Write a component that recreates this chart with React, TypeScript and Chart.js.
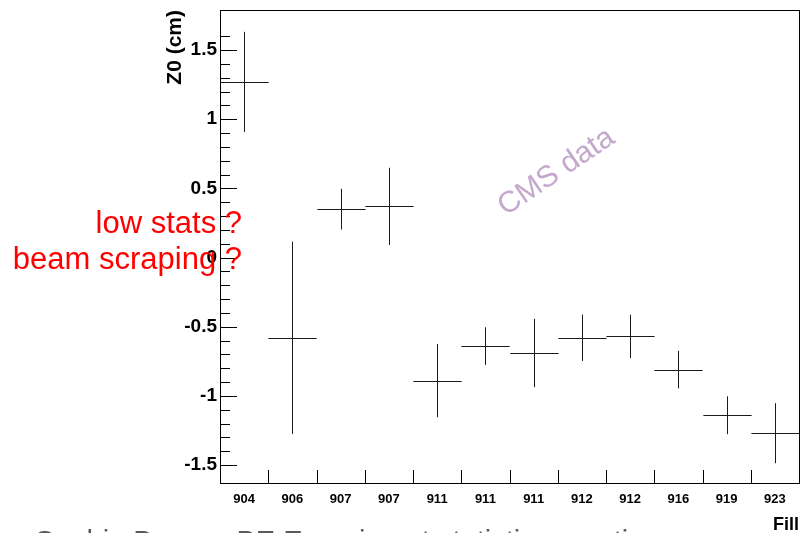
import React, { useEffect, useRef } from "react";
import { Chart, registerables } from "chart.js";

Chart.register(...registerables);

const categories = ["904", "906", "907", "907", "911", "911", "911", "912", "912", "916", "919", "923"];
const z0Values = [1.27, -0.58, 0.35, 0.37, -0.89, -0.64, -0.69, -0.58, -0.57, -0.81, -1.14, -1.27];
const z0Errors = [0.362, 0.695, 0.147, 0.279, 0.265, 0.136, 0.247, 0.168, 0.157, 0.136, 0.137, 0.217];
const yMin = -1.63;
const yMax = 1.79;
const yMinorStep = 0.1;
const yMajorStep = 0.5;
const yTitle = "Z0 (cm)";
const xTitle = "Fill";
const annotations = ["low stats ?", "beam scraping ?"];
const watermark = "CMS data";
const footer = "Sophie Baron - BE Experiment statistics meeting";

const isMultiple = (v: number, step: number) => Math.abs(v / step - Math.round(v / step)) < 1e-6;

const rootPlugin = {
  id: "rootStyle",
  afterDatasetsDraw(chart: any) {
    const { ctx, scales } = chart;
    const xs = scales.x;
    const ys = scales.y;
    const hw = (xs.getPixelForValue(1) - xs.getPixelForValue(0)) / 2;
    ctx.save();
    ctx.strokeStyle = "#1a1a1a";
    ctx.lineWidth = 1;
    z0Values.forEach((v, i) => {
      const cx = Math.round(xs.getPixelForValue(i)) + 0.5;
      const cy = Math.round(ys.getPixelForValue(v)) + 0.5;
      const y1 = ys.getPixelForValue(v + z0Errors[i]);
      const y2 = ys.getPixelForValue(v - z0Errors[i]);
      ctx.beginPath();
      ctx.moveTo(cx - hw, cy);
      ctx.lineTo(cx + hw, cy);
      ctx.moveTo(cx, y1);
      ctx.lineTo(cx, y2);
      ctx.stroke();
    });
    ctx.restore();
  },
  afterDraw(chart: any) {
    const { ctx, chartArea, scales } = chart;
    const xs = scales.x;
    const ys = scales.y;
    const { left, right, top, bottom } = chartArea;
    ctx.save();
    ctx.strokeStyle = "#000";
    ctx.lineWidth = 1;
    ctx.strokeRect(Math.round(left) + 0.5, Math.round(top) + 0.5, Math.round(right - left), Math.round(bottom - top));
    ctx.beginPath();
    ys.ticks.forEach((t: any) => {
      if (!isMultiple(t.value, yMinorStep)) return;
      const len = isMultiple(t.value, yMajorStep) ? 17 : 10;
      const y = Math.round(ys.getPixelForValue(t.value)) + 0.5;
      ctx.moveTo(left, y);
      ctx.lineTo(left + len, y);
    });
    for (let i = 0; i <= categories.length; i++) {
      const x = Math.round(xs.getPixelForValue(i - 0.5)) + 0.5;
      ctx.moveTo(x, bottom);
      ctx.lineTo(x, bottom - 13);
    }
    ctx.stroke();

    ctx.save();
    ctx.translate(561, 179);
    ctx.rotate((-34 * Math.PI) / 180);
    ctx.fillStyle = "rgb(196,168,206)";
    ctx.font = "30px 'Liberation Sans', Arial, sans-serif";
    ctx.textAlign = "center";
    ctx.textBaseline = "alphabetic";
    ctx.fillText(watermark, 0, 0);
    ctx.restore();

    ctx.fillStyle = "#ff0000";
    ctx.font = "31px 'Liberation Sans', Arial, sans-serif";
    ctx.textAlign = "right";
    ctx.textBaseline = "alphabetic";
    ctx.fillText(annotations[0], 242, 233);
    ctx.fillText(annotations[1], 242, 269);

    ctx.fillStyle = "#5a5a5a";
    ctx.font = "29px 'Liberation Sans', Arial, sans-serif";
    ctx.textAlign = "left";
    ctx.fillText(footer, 35, 551);
    ctx.restore();
  },
};

export default function App() {
  const ref = useRef<HTMLCanvasElement>(null);
  useEffect(() => {
    document.body.style.margin = "0";
    Chart.defaults.font.family = "'Liberation Sans', Arial, sans-serif";
    const chart = new Chart(ref.current as HTMLCanvasElement, {
      type: "line",
      data: {
        labels: categories,
        datasets: [
          {
            data: z0Values,
            showLine: false,
            pointRadius: 0,
            borderColor: "#000",
          },
        ],
      },
      options: {
        responsive: false,
        animation: false,
        events: [],
        layout: { padding: { left: 0, top: 10, right: 5, bottom: 0 } },
        plugins: { legend: { display: false }, tooltip: { enabled: false } },
        scales: {
          x: {
            type: "category",
            offset: true,
            grid: { display: false, offset: true, drawTicks: false, tickLength: 0 },
            border: { display: false },
            ticks: {
              autoSkip: false,
              maxRotation: 0,
              minRotation: 0,
              color: "#000",
              padding: 9,
              font: { size: 13, weight: "bold" },
            },
            title: {
              display: true,
              text: xTitle,
              align: "end",
              color: "#000",
              font: { size: 18, weight: "bold" },
              padding: { top: 0, bottom: -3 },
            },
            afterFit: (s: any) => {
              s.height = 50;
              s.paddingLeft = 0;
              s.paddingRight = 0;
            },
          },
          y: {
            type: "linear",
            min: yMin,
            max: yMax,
            grid: { display: false, drawTicks: false, tickLength: 0 },
            border: { display: false },
            ticks: {
              stepSize: yMinorStep,
              autoSkip: false,
              color: "#000",
              padding: 3,
              font: { size: 19, weight: "bold" },
              callback: (v: any) => {
                const n = Number(v);
                if (!isMultiple(n, yMajorStep)) return "";
                return String(Math.round(n * 10) / 10);
              },
            },
            title: {
              display: true,
              text: yTitle,
              align: "end",
              color: "#000",
              font: { size: 21, weight: "bold" },
              padding: { top: 163, bottom: 0 },
            },
            afterFit: (s: any) => {
              s.width = 220;
              s.paddingTop = 0;
              s.paddingBottom = 0;
            },
          },
        },
      },
      plugins: [rootPlugin],
    });
    return () => chart.destroy();
  }, []);
  return <canvas ref={ref} width={804} height={533} style={{ display: "block" }} />;
}
